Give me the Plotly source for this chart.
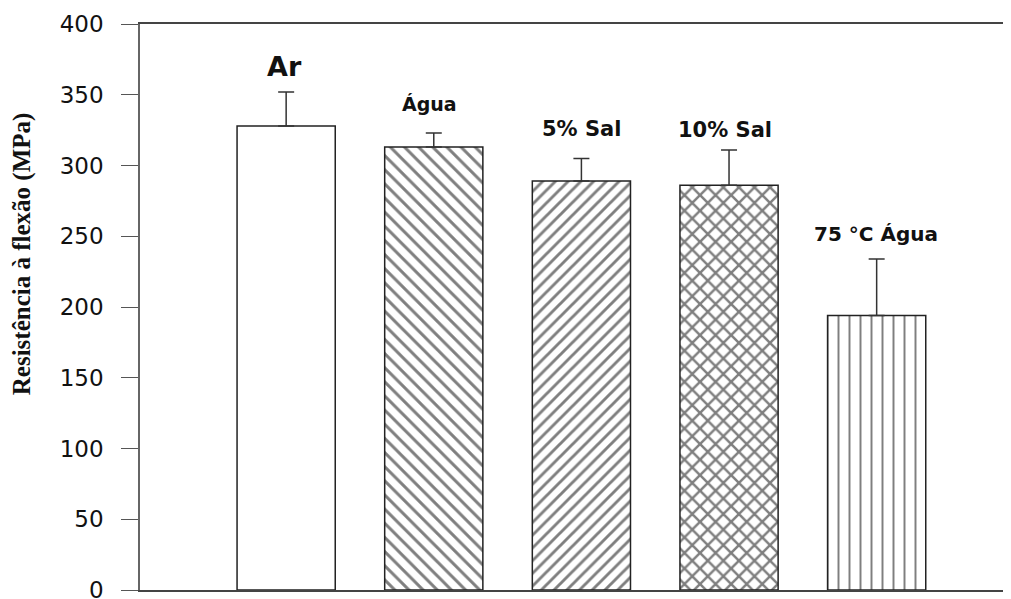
import plotly.graph_objects as go

categories = ["Ar", "Água", "5% Sal", "10% Sal", "75 °C Água"]
strength = [328, 313, 289, 286, 194]
error_up = [24, 10, 16, 25, 40]
tick_vals = [0, 50, 100, 150, 200, 250, 300, 350, 400]

# styling (not data)
patterns = ["", "\\", "/", "x", "|"]
pattern_sizes = [10, 10, 9, 11, 11]
pattern_solidity = [0.2, 0.3, 0.32, 0.4, 0.18]
label_sizes = [27, 19, 21, 21, 20]
label_yshift = [25, 29, 29, 20, 25]
label_xshift = [-2, -4, 0, -4, -1]

fig = go.Figure()
fig.add_trace(go.Bar(
    x=list(range(len(categories))),
    y=strength,
    width=0.665,
    marker=dict(
        color="white",
        line=dict(color="#222222", width=1.5),
        pattern=dict(shape=patterns, size=pattern_sizes, solidity=pattern_solidity,
                     fgcolor="#000000", bgcolor="white", fillmode="overlay"),
    ),
    error_y=dict(type="data", symmetric=False, array=error_up,
                 arrayminus=[0] * len(categories),
                 color="#333333", thickness=1.5, width=8),
    showlegend=False,
))

for i, name in enumerate(categories):
    fig.add_annotation(
        x=i, y=strength[i] + error_up[i], xref="x", yref="y",
        text=f"<b>{name}</b>", showarrow=False,
        yanchor="middle", xanchor="center",
        yshift=label_yshift[i], xshift=label_xshift[i],
        font=dict(family="DejaVu Sans, sans-serif", size=label_sizes[i], color="#111111"),
    )

fig.add_annotation(
    x=-0.1355, y=0.595, xref="paper", yref="paper",
    text="<b>Resistência à flexão (MPa)</b>", showarrow=False, textangle=-90,
    xanchor="center", yanchor="middle",
    font=dict(family="Liberation Serif, Times New Roman, serif", size=25, color="#111111"),
)

fig.update_layout(
    width=1003, height=591,
    margin=dict(l=132, r=0, t=16, b=9, autoexpand=False),
    plot_bgcolor="white", paper_bgcolor="white",
    xaxis=dict(range=[-0.99, 4.91], showticklabels=False, ticks="",
               showgrid=False, zeroline=False, showline=True, automargin=False,
               linecolor="#444444", linewidth=2, mirror=True),
    yaxis=dict(range=[0, 400], tickvals=tick_vals, ticks="outside", ticklen=17,
               tickcolor="#555555", tickwidth=1.2, automargin=False,
               ticklabeloverflow="allow", ticklabelstandoff=13,
               showgrid=False, zeroline=False, showline=True,
               linecolor="#666666", linewidth=1.5,
               tickfont=dict(family="DejaVu Sans, sans-serif", size=23, color="#111111")),
)

fig.write_html("out.html")
